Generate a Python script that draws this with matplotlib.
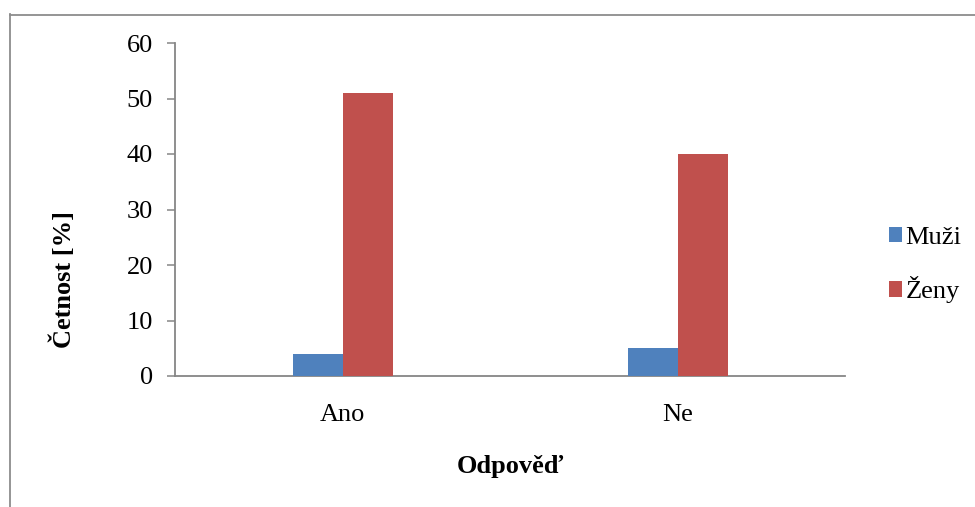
import matplotlib.pyplot as plt
from matplotlib.lines import Line2D
import numpy as np

plt.rcParams["font.family"] = ["Liberation Serif", "DejaVu Serif"]

# data
odpovedi = ["Ano", "Ne"]
muzi = [4, 5]
zeny = [51, 40]

blue = "#4F81BD"
red = "#C0504D"
gray = "#868686"
fs = 19

W, H = 975, 507
fig = plt.figure(figsize=(W / 100, H / 100), dpi=100)

# outer chart frame (only left and top edges fall inside the image)
fig.add_artist(Line2D([9.5 / W, 9.5 / W], [0, 1 - 14 / H], color="#8c8c8c", lw=1.3))
fig.add_artist(Line2D([9.5 / W, 1], [1 - 14.5 / H, 1 - 14.5 / H], color="#8c8c8c", lw=1.3))

ax = fig.add_axes([175 / W, 1 - 376 / H, 670 / W, 333 / H])

x = np.arange(len(odpovedi))
bw = 50 / 335
ax.bar(x - bw / 2, muzi, bw, color=blue, label="Muži", zorder=3)
ax.bar(x + bw / 2, zeny, bw, color=red, label="Ženy", zorder=3)

ax.set_xlim(-0.5, 1.5)
ax.set_ylim(0, 60)
ax.set_yticks(range(0, 61, 10))
ax.set_xticks(x)
ax.set_xticklabels(odpovedi)

for s in ["top", "right"]:
    ax.spines[s].set_visible(False)
for s in ["left", "bottom"]:
    ax.spines[s].set_color(gray)
    ax.spines[s].set_linewidth(1.3)

ax.tick_params(axis="y", length=6, width=1.1, color=gray, labelsize=fs, pad=10)
ax.tick_params(axis="x", length=0, labelsize=fs, pad=20)

fig.text(63 / W, 1 - 280 / H, "Četnost [%]", rotation=90, ha="center", va="center",
         fontsize=fs, fontweight="bold")
fig.text(510 / W, 1 - 466 / H, "Odpověď", ha="center", va="center",
         fontsize=fs, fontweight="bold")

fig.legend(loc="center left", bbox_to_anchor=(878 / W, 1 - 265 / H), frameon=False,
           fontsize=fs, handlelength=0.5, handleheight=0.5, handletextpad=0.15,
           labelspacing=1.05, borderaxespad=0)

fig.savefig("out.png", dpi=100)
